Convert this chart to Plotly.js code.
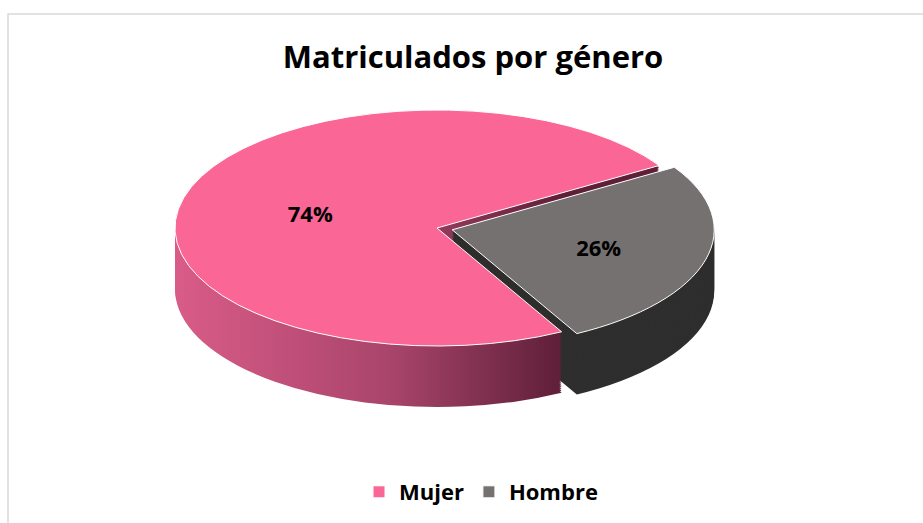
<!DOCTYPE html>
<html><head><meta charset="utf-8">
<script src="https://cdn.plot.ly/plotly-3.0.1.min.js"></script>
<style>html,body{margin:0;padding:0;background:#fff}#chart{width:923px;height:523px}</style>
</head><body><div id="chart"></div>
<script>
// ---- data ----
const labels = ['Mujer', 'Hombre'];
const values = [74, 26];
const chartTitle = 'Matriculados por género';

// ---- styling ----
const topColors = ['#FA6695', '#767171'];
const sideColors = ['#A8406A', '#2F2E2E'];
const pulls = [0, 0.06];
const FONT = '"Open Sans", Lato, sans-serif';
const W = 923, H = 523;
// 3D look: target ellipse for the top face
const centerX = 437, centerY = 228, radiusX = 262, radiusY = 118, depth = 61, nLayers = 32;
const rotationDeg = 151.6;
const dom = {x: [0.2, 0.8], y: [0.1, 0.9]};

const traces = [];
for (let j = nLayers; j >= 1; j--) {
  traces.push({
    type: 'pie', labels: labels, values: values, sort: false, direction: 'clockwise',
    rotation: rotationDeg, pull: pulls, domain: dom,
    marker: {colors: sideColors, line: {width: 0}},
    textinfo: 'none', showlegend: false, hoverinfo: 'skip'
  });
}
traces.push({
  type: 'pie', labels: labels, values: values, sort: false, direction: 'clockwise',
  rotation: rotationDeg, pull: pulls, domain: dom,
  marker: {colors: topColors, line: {color: '#ffffff', width: 1}},
  textinfo: 'percent', textposition: 'inside', insidetextorientation: 'horizontal',
  textfont: {family: FONT, size: 22, color: '#000000', weight: 'bold'},
  showlegend: true, hoverinfo: 'skip'
});

const layout = {
  width: W, height: H,
  margin: {l: 0, r: 0, t: 0, b: 0},
  paper_bgcolor: '#ffffff', plot_bgcolor: '#ffffff',
  title: {text: chartTitle, x: 473 / W, xanchor: 'center', y: 1 - 57 / H, yanchor: 'middle', yref: 'container',
          font: {family: FONT, size: 31, color: '#000000', weight: 'bold'}},
  showlegend: true,
  legend: {orientation: 'h', x: 481 / W, xanchor: 'center', y: 1 - 492 / H, yanchor: 'middle',
           font: {family: FONT, size: 22, color: '#000000', weight: 'bold'}, itemwidth: 30,
           traceorder: 'normal'},
  shapes: [{type: 'rect', xref: 'paper', yref: 'paper', x0: 8 / W, x1: 1.05, y0: -0.05, y1: 1 - 14 / H,
            line: {color: '#d9d9d9', width: 1.5}, fillcolor: 'rgba(0,0,0,0)', layer: 'below'}]
};

const gd = document.getElementById('chart');
Plotly.newPlot(gd, traces, layout, {staticPlot: true, displayModeBar: false}).then(function () {
  const cd0 = gd.calcdata[0][0];
  const cx0 = cd0.cx, cy0 = cd0.cy, r0 = cd0.r;
  const sx = radiusX / r0, sy = radiusY / r0;
  const svg = gd.querySelector('svg.main-svg');
  // gradient for the pink side wall
  const ns = 'http://www.w3.org/2000/svg';
  let defs = svg.querySelector('defs');
  if (!defs) { defs = document.createElementNS(ns, 'defs'); svg.insertBefore(defs, svg.firstChild); }
  const lg = document.createElementNS(ns, 'linearGradient');
  lg.setAttribute('id', 'mujerSide');
  lg.setAttribute('x1', '0'); lg.setAttribute('x2', '1'); lg.setAttribute('y1', '0'); lg.setAttribute('y2', '0');
  [[0, '#D95C88'], [0.45, '#A8446A'], [0.8, '#5E1F38'], [1, '#5E1F38']].forEach(function (s) {
    const st = document.createElementNS(ns, 'stop');
    st.setAttribute('offset', s[0]); st.setAttribute('stop-color', s[1]);
    lg.appendChild(st);
  });
  defs.appendChild(lg);

  const traceGroups = gd.querySelectorAll('.pielayer .trace');
  traceGroups.forEach(function (tg, idx) {
    const isTop = idx === traceGroups.length - 1;
    const layer = isTop ? 0 : (nLayers - idx);
    const dy = depth * layer / nLayers;
    const tx = centerX - sx * cx0, ty = centerY + dy - sy * cy0;
    const m = 'matrix(' + sx + ',0,0,' + sy + ',' + tx + ',' + ty + ')';
    tg.querySelectorAll('g.slice').forEach(function (sl, k) {
      const p = sl.querySelector('path.surface');
      if (p) {
        p.setAttribute('transform', m);
        p.style.vectorEffect = 'non-scaling-stroke';
        if (!isTop && k === 0) p.style.fill = 'url(#mujerSide)';
      }
    });
    if (isTop) {
      const sr = svg.getBoundingClientRect();
      tg.querySelectorAll('g.slicetext').forEach(function (g) {
        const r = g.getBoundingClientRect();
        const px = r.x + r.width / 2 - sr.x, py = r.y + r.height / 2 - sr.y;
        const nx = sx * px + tx, ny = sy * py + ty;
        g.setAttribute('transform', 'translate(' + (nx - px) + ',' + (ny - py) + ')');
      });
    }
  });
});
</script>
</body></html>
